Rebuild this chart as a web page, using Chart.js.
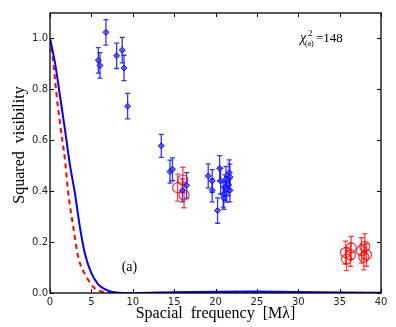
<!DOCTYPE html>
<html>
<head>
<meta charset="utf-8">
<script src="https://cdn.jsdelivr.net/npm/chart.js@4/dist/chart.umd.min.js"></script>
<style>
  html, body { margin: 0; padding: 0; background: #fff; }
  #wrap { width: 396px; height: 327px; }
</style>
</head>
<body>
<div id="wrap"><canvas id="vis-chart" width="396" height="327"></canvas></div>
<script>
// Observed squared visibilities (blue diamonds)
const blueFreq = [5.84, 6.04, 6.76, 8.05, 8.73, 8.94, 9.38, 13.45, 14.5, 14.8, 16.0, 16.5,
  19.12, 19.6, 19.6, 20.25, 20.5, 20.62, 20.93, 21.0, 21.14, 21.26, 21.34, 21.54, 21.66, 21.74, 21.74];
const blueV2 = [0.914, 0.894, 1.024, 0.932, 0.954, 0.884, 0.734, 0.578, 0.477, 0.486, 0.403, 0.423,
  0.46, 0.44, 0.403, 0.324, 0.49, 0.44, 0.387, 0.374, 0.414, 0.447, 0.407, 0.427, 0.473, 0.456, 0.403];
const blueErr = [0.05, 0.05, 0.05, 0.05, 0.05, 0.05, 0.05, 0.045, 0.045, 0.045, 0.045, 0.05,
  0.047, 0.045, 0.045, 0.05, 0.05, 0.05, 0.05, 0.045, 0.05, 0.05, 0.05, 0.045, 0.05, 0.05, 0.045];

// Observed squared visibilities (red open circles)
const redFreq = [15.42, 16.06, 16.2, 35.71, 35.83, 36.3, 36.4, 37.64, 37.92, 38.04, 38.24];
const redV2 = [0.414, 0.444, 0.385, 0.159, 0.133, 0.15, 0.177, 0.167, 0.141, 0.183, 0.15];
const redErr = [0.053, 0.05, 0.05, 0.045, 0.045, 0.045, 0.045, 0.05, 0.05, 0.05, 0.045];

// Model curves
const blueModelFreq = [0, 0.6, 1.2, 1.8, 2.4, 3.0, 3.6, 4.2, 5.0, 5.8, 6.4, 7.2, 8.0, 10, 15, 20, 25, 30, 35, 40];
const blueModel = [1.0, 0.905, 0.776, 0.644, 0.505, 0.394, 0.262, 0.157, 0.078, 0.035, 0.019, 0.007, 0.002, 0.0,
  0.003, 0.005, 0.006, 0.004, 0.002, 0.001];
const redModelFreq = [0, 0.4, 0.8, 1.3, 1.8, 2.2, 2.8, 3.4, 4.4, 5.4, 6.2, 7.0, 9, 15, 20, 25, 30, 35, 40];
const redModel = [1.0, 0.905, 0.776, 0.644, 0.526, 0.394, 0.262, 0.143, 0.064, 0.019, 0.006, 0.001, 0,
  0.001, 0.002, 0.002, 0.002, 0.001, 0.001];

// Axis ticks
const xTicks = [0, 5, 10, 15, 20, 25, 30, 35, 40];
const yTicks = [0, 0.2, 0.4, 0.6, 0.8, 1.0];

const serif = '"Liberation Serif", "DejaVu Serif", serif';

function toPoints(xs, ys) {
  return xs.map((x, i) => ({ x: x, y: ys[i] }));
}

/**
 * Draws vertical error bars with caps under the markers.
 */
const errorBarPlugin = {
  id: 'errorBars',
  beforeDatasetsDraw(chart) {
    const { ctx, scales: { x, y } } = chart;
    ctx.save();
    chart.data.datasets.forEach((ds) => {
      if (!ds.errors) return;
      ctx.strokeStyle = ds.errorColor;
      ctx.lineWidth = 1.3;
      ds.data.forEach((p, i) => {
        const px = x.getPixelForValue(p.x);
        const top = y.getPixelForValue(p.y + ds.errors[i]);
        const bot = y.getPixelForValue(p.y - ds.errors[i]);
        ctx.beginPath();
        ctx.moveTo(px, top);
        ctx.lineTo(px, bot);
        ctx.moveTo(px - 2.5, top);
        ctx.lineTo(px + 2.5, top);
        ctx.moveTo(px - 2.5, bot);
        ctx.lineTo(px + 2.5, bot);
        ctx.stroke();
      });
    });
    ctx.restore();
  },
};

/**
 * Frame, inward ticks on all four sides, annotations and y title.
 */
const framePlugin = {
  id: 'frame',
  afterDraw(chart) {
    const { ctx, chartArea: a, scales: { x, y } } = chart;
    ctx.save();
    ctx.strokeStyle = '#000';
    ctx.lineWidth = 1;
    ctx.beginPath();
    xTicks.forEach((v) => {
      const px = Math.round(x.getPixelForValue(v)) + 0.5;
      ctx.moveTo(px, a.bottom); ctx.lineTo(px, a.bottom - 4);
      ctx.moveTo(px, a.top); ctx.lineTo(px, a.top + 4);
    });
    yTicks.forEach((v) => {
      const py = Math.round(y.getPixelForValue(v)) + 0.5;
      ctx.moveTo(a.left, py); ctx.lineTo(a.left + 4, py);
      ctx.moveTo(a.right, py); ctx.lineTo(a.right - 4, py);
    });
    ctx.stroke();
    ctx.lineWidth = 1.3;
    ctx.strokeRect(a.left, a.top, a.right - a.left, a.bottom - a.top);

    // chi-square annotation
    ctx.fillStyle = '#000';
    ctx.textBaseline = 'alphabetic';
    ctx.textAlign = 'left';
    const cx = x.getPixelForValue(30.2);
    const cy = y.getPixelForValue(0.985);
    ctx.font = 'italic 14px ' + serif;
    ctx.fillText('\u03c7', cx, cy);
    ctx.font = '9px ' + serif;
    ctx.fillText('2', cx + 8, cy - 6);
    ctx.font = '8px ' + serif;
    ctx.fillText('(a)', cx + 5, cy + 4);
    ctx.font = '13px ' + serif;
    ctx.fillText('=148', cx + 16, cy);

    // panel label
    ctx.font = '14px ' + serif;
    ctx.textAlign = 'center';
    ctx.textBaseline = 'middle';
    ctx.fillText('(a)', x.getPixelForValue(9.6), y.getPixelForValue(0.1));

    // y axis title
    ctx.font = '16px ' + serif;
    ctx.translate(20, 145);
    ctx.rotate(-Math.PI / 2);
    ctx.fillText('Squared  visibility', 0, 0);
    ctx.restore();
  },
};

new Chart(document.getElementById('vis-chart'), {
  type: 'scatter',
  data: {
    datasets: [
      {
        type: 'line',
        data: toPoints(blueModelFreq, blueModel),
        borderColor: '#0000ff',
        borderWidth: 2,
        pointRadius: 0,
        cubicInterpolationMode: 'monotone',
        fill: false,
      },
      {
        type: 'line',
        data: toPoints(redModelFreq, redModel),
        borderColor: '#ff0000',
        borderWidth: 2,
        borderDash: [5, 4],
        pointRadius: 0,
        cubicInterpolationMode: 'monotone',
        fill: false,
      },
      {
        data: toPoints(blueFreq, blueV2),
        errors: blueErr,
        errorColor: 'rgba(0, 0, 255, 0.8)',
        pointStyle: 'rectRot',
        pointRadius: 3,
        backgroundColor: 'rgba(60, 60, 255, 0.75)',
        borderColor: 'rgba(0, 0, 255, 0.9)',
        borderWidth: 1,
      },
      {
        data: toPoints(redFreq, redV2),
        errors: redErr,
        errorColor: 'rgba(255, 0, 0, 0.75)',
        pointStyle: 'circle',
        pointRadius: 5,
        backgroundColor: 'rgba(255, 255, 255, 0)',
        borderColor: 'rgba(255, 0, 0, 0.8)',
        borderWidth: 1.2,
      },
    ],
  },
  options: {
    animation: false,
    responsive: false,
    events: [],
    layout: { padding: { top: 13, right: 15, left: 0, bottom: 0 } },
    plugins: {
      legend: { display: false },
      tooltip: { enabled: false },
    },
    scales: {
      x: {
        type: 'linear',
        min: 0,
        max: 40,
        afterBuildTicks: (s) => { s.ticks = xTicks.map((v) => ({ value: v })); },
        afterFit: (s) => { s.height = 34; },
        grid: { display: false, drawTicks: false },
        border: { display: false },
        ticks: {
          padding: 3,
          color: '#222',
          font: { family: 'DejaVu Sans', size: 10 },
          maxRotation: 0,
        },
        title: {
          display: true,
          text: 'Spacial  frequency  [M\u03bb]',
          color: '#000',
          font: { family: serif, size: 16 },
          padding: { top: 0, bottom: 4 },
        },
      },
      y: {
        type: 'linear',
        min: 0,
        max: 1.1,
        afterBuildTicks: (s) => { s.ticks = yTicks.map((v) => ({ value: v })); },
        afterFit: (s) => { s.width = 50; },
        grid: { display: false, drawTicks: false },
        border: { display: false },
        ticks: {
          padding: 2,
          color: '#222',
          font: { family: 'DejaVu Sans', size: 10 },
          callback: (v) => v.toFixed(1),
        },
      },
    },
  },
  plugins: [errorBarPlugin, framePlugin],
});
</script>
</body>
</html>
